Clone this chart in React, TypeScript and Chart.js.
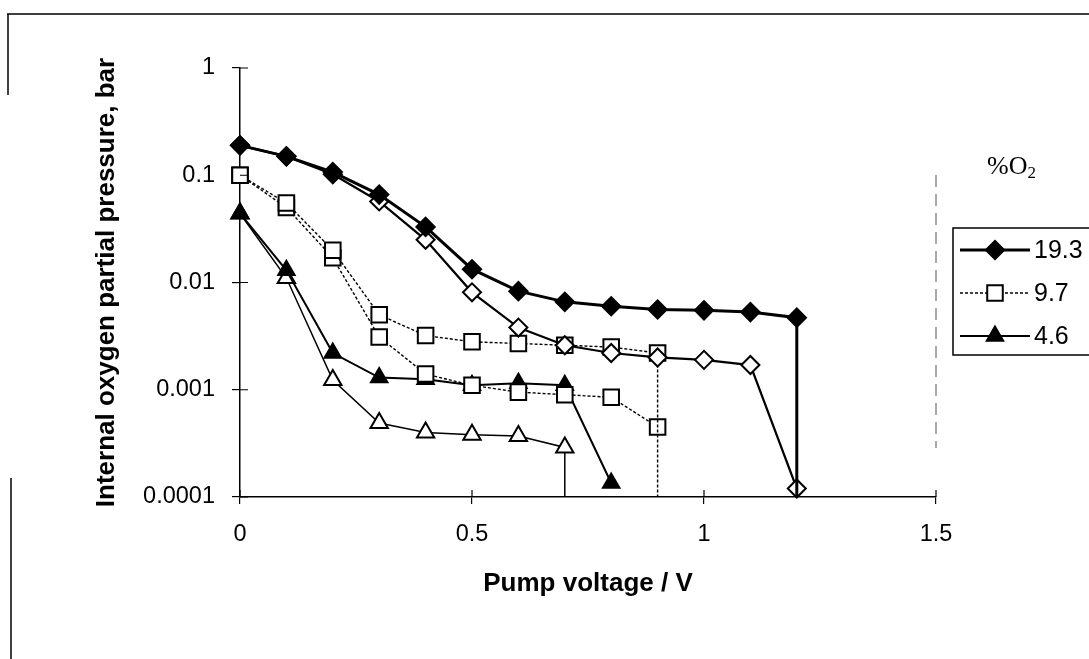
import React, { useEffect, useRef } from 'react';
import { Chart, registerables } from 'chart.js';

Chart.register(...registerables);

// ---------- data ----------
// 19.3 % O2, first run (filled diamonds); last pair = vertical drop to the axis
const o2_193_a_x = [0, 0.1, 0.2, 0.3, 0.4, 0.5, 0.6, 0.7, 0.8, 0.9, 1.0, 1.1, 1.2, 1.2];
const o2_193_a_y = [0.19, 0.15, 0.107, 0.066, 0.033, 0.0133, 0.0083, 0.0066, 0.006, 0.0056, 0.0055, 0.0053, 0.0047, 0.0001];
// 19.3 % O2, second run (open diamonds)
const o2_193_b_x = [0, 0.1, 0.2, 0.3, 0.4, 0.5, 0.6, 0.7, 0.8, 0.9, 1.0, 1.1, 1.2];
const o2_193_b_y = [0.19, 0.15, 0.102, 0.057, 0.025, 0.0081, 0.0038, 0.0026, 0.0022, 0.002, 0.0019, 0.0017, 0.00012];
// 9.7 % O2, first run (open squares, dotted); last pair = drop to the axis
const o2_97_a_x = [0, 0.1, 0.2, 0.3, 0.4, 0.5, 0.6, 0.7, 0.8, 0.9, 0.9];
const o2_97_a_y = [0.1, 0.055, 0.02, 0.005, 0.0032, 0.0028, 0.0027, 0.0026, 0.0025, 0.0022, 0.0001];
// 9.7 % O2, second run (open squares, dotted)
const o2_97_b_x = [0, 0.1, 0.2, 0.3, 0.4, 0.5, 0.6, 0.7, 0.8, 0.9];
const o2_97_b_y = [0.1, 0.05, 0.017, 0.0031, 0.0014, 0.0011, 0.00095, 0.0009, 0.00085, 0.00045];
// 4.6 % O2, first run (filled triangles)
const o2_46_a_x = [0, 0.1, 0.2, 0.3, 0.4, 0.5, 0.6, 0.7, 0.8];
const o2_46_a_y = [0.044, 0.013, 0.0022, 0.0013, 0.00125, 0.0011, 0.00115, 0.0011, 0.000135];
// 4.6 % O2, second run (open triangles); last pair = drop to the axis
const o2_46_b_x = [0, 0.1, 0.2, 0.3, 0.4, 0.5, 0.6, 0.7, 0.7];
const o2_46_b_y = [0.044, 0.011, 0.00123, 0.00049, 0.0004, 0.00038, 0.00037, 0.00029, 0.0001];

const seriesLabels = ['19.3', '19.3', '9.7', '9.7', '4.6', '4.6'];
const legendIndices = [0, 2, 4];

const yTickValues = [1, 0.1, 0.01, 0.001, 0.0001];
const yTickLabels = ['1', '0.1', '0.01', '0.001', '0.0001'];
const xTickValues = [0, 0.5, 1, 1.5];
const xTickLabels = ['0', '0.5', '1', '1.5'];

const xTitle = 'Pump voltage / V';
const yTitle = 'Internal oxygen partial pressure, bar';
const legendTitleMain = '%O';
const legendTitleSub = '2';

const Y_MIN = 0.0001;
const Y_MAX = 1;
const X_MIN = 0;
const X_MAX = 1.5;

// ---------- helpers ----------
const toPoints = (xs: number[], ys: number[]) => xs.map((x, i) => ({ x, y: ys[i] }));

const SANS = "'Liberation Sans', Arial, sans-serif";
const SERIF = "'Liberation Serif', 'Times New Roman', serif";

function markerPath(ctx: CanvasRenderingContext2D, style: string, x: number, y: number, r: number) {
  ctx.beginPath();
  if (style === 'rectRot') {
    ctx.moveTo(x, y - r);
    ctx.lineTo(x + r, y);
    ctx.lineTo(x, y + r);
    ctx.lineTo(x - r, y);
    ctx.closePath();
  } else if (style === 'rect') {
    const s = r * Math.SQRT1_2;
    ctx.rect(x - s, y - s, 2 * s, 2 * s);
  } else {
    ctx.moveTo(x, y - r);
    ctx.lineTo(x + r * 0.866, y + r * 0.5);
    ctx.lineTo(x - r * 0.866, y + r * 0.5);
    ctx.closePath();
  }
}

const decorPlugin = {
  id: 'decor',
  afterDraw(chart: any) {
    const ctx: CanvasRenderingContext2D = chart.ctx;
    const xs = chart.scales.x;
    const ys = chart.scales.y;
    const area = chart.chartArea;
    ctx.save();

    // inner halves of the crossing tick marks
    ctx.strokeStyle = '#000';
    ctx.lineWidth = 1.2;
    ctx.beginPath();
    yTickValues.forEach((v) => {
      const py = ys.getPixelForValue(v);
      ctx.moveTo(area.left, py);
      ctx.lineTo(area.left + 8, py);
    });
    xTickValues.forEach((v) => {
      const px = xs.getPixelForValue(v);
      ctx.moveTo(px, area.bottom);
      ctx.lineTo(px, area.bottom - 7);
    });
    ctx.stroke();

    // faint dashed remnant of the plot-area right border
    ctx.strokeStyle = '#555';
    ctx.lineWidth = 1;
    ctx.setLineDash([12, 7]);
    ctx.beginPath();
    ctx.moveTo(area.right, 175);
    ctx.lineTo(area.right, 448);
    ctx.stroke();
    ctx.setLineDash([]);

    // outer frame of the scanned chart
    ctx.strokeStyle = '#000';
    ctx.lineWidth = 1.5;
    ctx.beginPath();
    ctx.moveTo(7, 14);
    ctx.lineTo(1089, 14);
    ctx.moveTo(8, 14);
    ctx.lineTo(8, 95);
    ctx.moveTo(11, 478);
    ctx.lineTo(11, 659);
    ctx.stroke();

    // legend title
    ctx.fillStyle = '#000';
    ctx.textBaseline = 'middle';
    ctx.textAlign = 'left';
    ctx.font = `26px ${SERIF}`;
    const tx = 987;
    const ty = 167;
    ctx.fillText(legendTitleMain, tx, ty);
    const w = ctx.measureText(legendTitleMain).width;
    ctx.font = `17px ${SERIF}`;
    ctx.fillText(legendTitleSub, tx + w, ty + 7);

    // legend box
    const boxL = 953;
    const boxT = 228;
    const boxB = 355;
    ctx.strokeStyle = '#000';
    ctx.lineWidth = 1.5;
    ctx.strokeRect(boxL, boxT, 1100 - boxL, boxB - boxT);

    const entryY = [250, 293, 336];
    legendIndices.forEach((di, k) => {
      const ds = chart.data.datasets[di];
      const y = entryY[k];
      ctx.strokeStyle = '#000';
      ctx.lineWidth = ds.borderWidth;
      ctx.setLineDash(ds.borderDash || []);
      ctx.beginPath();
      ctx.moveTo(960, y);
      ctx.lineTo(1030, y);
      ctx.stroke();
      ctx.setLineDash([]);
      markerPath(ctx, ds.pointStyle, 995, y, ds.markerSize);
      ctx.fillStyle = ds.pointBackgroundColor;
      ctx.fill();
      ctx.lineWidth = ds.pointBorderWidth;
      ctx.strokeStyle = '#000';
      ctx.stroke();
      ctx.fillStyle = '#000';
      ctx.font = `25px ${SANS}`;
      ctx.textBaseline = 'middle';
      ctx.fillText(ds.label, 1034, y + 1);
    });

    ctx.restore();
  },
};

function makeDataset(
  label: string,
  xsArr: number[],
  ysArr: number[],
  pointStyle: string,
  size: number,
  fill: string,
  lineWidth: number,
  dash: number[],
  markerBorder: number
) {
  return {
    label,
    data: toPoints(xsArr, ysArr),
    borderColor: '#000',
    borderWidth: lineWidth,
    borderDash: dash,
    pointStyle,
    markerSize: size,
    pointRadius: (c: any) => (c.raw && c.raw.y <= Y_MIN ? 0 : size),
    pointHoverRadius: (c: any) => (c.raw && c.raw.y <= Y_MIN ? 0 : size),
    pointBackgroundColor: fill,
    pointBorderColor: '#000',
    pointBorderWidth: markerBorder,
    tension: 0,
    fill: false,
    clip: false,
  };
}

export default function App() {
  const ref = useRef<HTMLCanvasElement>(null);

  useEffect(() => {
    const canvas = ref.current;
    if (!canvas) return;
    const chart = new Chart(canvas, {
      type: 'line',
      data: {
        datasets: [
          makeDataset(seriesLabels[0], o2_193_a_x, o2_193_a_y, 'rectRot', 9.5, '#000', 3, [], 1.5),
          makeDataset(seriesLabels[1], o2_193_b_x, o2_193_b_y, 'rectRot', 9, '#fff', 2.2, [], 2),
          makeDataset(seriesLabels[2], o2_97_a_x, o2_97_a_y, 'rect', 11, '#fff', 1.4, [3, 2], 2),
          makeDataset(seriesLabels[3], o2_97_b_x, o2_97_b_y, 'rect', 11, '#fff', 1.4, [3, 2], 2),
          makeDataset(seriesLabels[4], o2_46_a_x, o2_46_a_y, 'triangle', 10, '#000', 2, [], 1.5),
          makeDataset(seriesLabels[5], o2_46_b_x, o2_46_b_y, 'triangle', 10, '#fff', 1.5, [], 2),
        ] as any,
      },
      options: {
        responsive: false,
        devicePixelRatio: 1,
        animation: false,
        parsing: true,
        layout: { padding: { left: 0, top: 68, right: 153, bottom: 0 } },
        plugins: {
          legend: { display: false },
          tooltip: { enabled: false },
          title: { display: false },
        },
        scales: {
          x: {
            type: 'linear',
            min: X_MIN,
            max: X_MAX,
            afterBuildTicks: (s: any) => {
              s.ticks = xTickValues.map((v) => ({ value: v }));
            },
            afterFit: (s: any) => {
              s.height = 162;
            },
            ticks: {
              color: '#000',
              font: { family: SANS, size: 23.5 },
              padding: 16,
              maxRotation: 0,
              autoSkip: false,
              callback: (v: any) => {
                const i = xTickValues.indexOf(Number(v));
                return i >= 0 ? xTickLabels[i] : '';
              },
            },
            grid: { drawOnChartArea: false, drawTicks: true, tickLength: 7, color: '#000', lineWidth: 1.2 },
            border: { display: true, color: '#000', width: 1.5 },
            title: {
              display: true,
              text: xTitle,
              color: '#000',
              font: { family: SANS, size: 26, weight: 'bold' },
              padding: { top: 0, bottom: 60 },
            },
          },
          y: {
            type: 'logarithmic',
            min: Y_MIN,
            max: Y_MAX,
            afterBuildTicks: (s: any) => {
              s.ticks = yTickValues.map((v) => ({ value: v }));
            },
            afterFit: (s: any) => {
              s.width = 240;
            },
            ticks: {
              color: '#000',
              font: { family: SANS, size: 23.5 },
              padding: 17,
              autoSkip: false,
              callback: (v: any) => {
                const i = yTickValues.findIndex((t) => Math.abs(t - Number(v)) < t * 1e-6);
                return i >= 0 ? yTickLabels[i] : '';
              },
            },
            grid: { drawOnChartArea: false, drawTicks: true, tickLength: 8, color: '#000', lineWidth: 1.2 },
            border: { display: true, color: '#000', width: 1.5 },
            title: {
              display: true,
              text: yTitle,
              color: '#000',
              font: { family: SANS, size: 26, weight: 'bold' },
              padding: { top: 91, bottom: 0 },
            },
          },
        },
      } as any,
      plugins: [decorPlugin],
    });
    return () => chart.destroy();
  }, []);

  return (
    <div style={{ position: 'absolute', left: 0, top: 0, width: 1089, height: 659, background: '#fff' }}>
      <canvas ref={ref} width={1089} height={659} style={{ display: 'block', width: 1089, height: 659 }} />
    </div>
  );
}
